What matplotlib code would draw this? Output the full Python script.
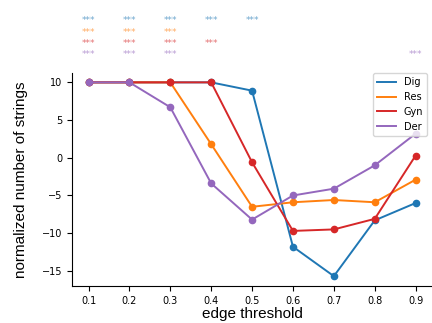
import matplotlib.pyplot as plt
import matplotlib.transforms as mtransforms

thresholds = [0.1, 0.2, 0.3, 0.4, 0.5, 0.6, 0.7, 0.8, 0.9]
dig = [10, 10, 10, 10, 8.9, -11.8, -15.7, -8.3, -6.0]
res = [10, 10, 10, 1.8, -6.5, -5.9, -5.6, -5.9, -2.9]
gyn = [10, 10, 10, 10, -0.6, -9.7, -9.5, -8.1, 0.3]
der = [10, 10, 6.7, -3.4, -8.2, -5.0, -4.1, -1.0, 3.2]

# thresholds where each group gets a significance mark
sig_dig = [0.1, 0.2, 0.3, 0.4, 0.5]
sig_res = [0.1, 0.2, 0.3]
sig_gyn = [0.1, 0.2, 0.3, 0.4]
sig_der = [0.1, 0.2, 0.3, 0.9]

colors = ['#1f77b4', '#ff7f0e', '#d62728', '#9467bd']
names = ['Dig', 'Res', 'Gyn', 'Der']

fig = plt.figure(figsize=(4.32, 3.23), dpi=100)
ax = fig.add_axes([0.167, 0.115, 0.833, 0.66])

for vals, c, n in zip([dig, res, gyn, der], colors, names):
    ax.plot(thresholds, vals, color=c, marker='o', markersize=4.5, linewidth=1.4, label=n)

ax.spines['top'].set_visible(False)
ax.spines['right'].set_visible(False)
ax.set_xticks(thresholds)
ax.set_yticks([-15, -10, -5, 0, 5, 10])
ax.tick_params(labelsize=7)
ax.set_xlabel('edge threshold', fontsize=11, family='Liberation Sans', labelpad=1)
ax.set_ylabel('normalized number of strings', fontsize=11, family='Liberation Sans', labelpad=10)
leg = ax.legend(loc='upper right', fontsize=7, bbox_to_anchor=(1.0, 1.02))
for ln in leg.get_lines():
    ln.set_marker('None')

trans = mtransforms.blended_transform_factory(ax.transData, fig.transFigure)
rows = [0.935, 0.9, 0.866, 0.832]
for sig, c, yy in zip([sig_dig, sig_res, sig_gyn, sig_der], colors, rows):
    for t in sig:
        ax.text(t, yy, '***', color=c, alpha=0.65, fontsize=6.5, ha='center', va='center',
                transform=trans, clip_on=False)

fig.savefig('out.png', dpi=100)
